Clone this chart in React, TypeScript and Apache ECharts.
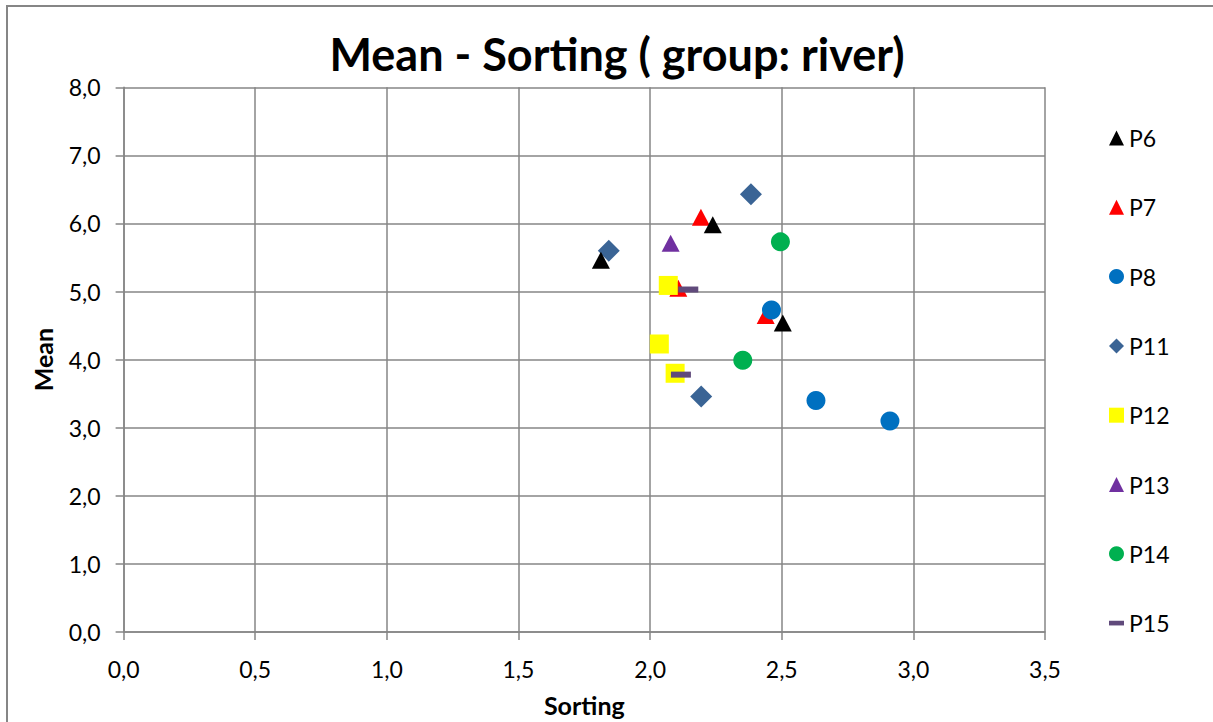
import React, { useEffect, useRef } from "react";
import * as echarts from "echarts";

const seriesNames = ["P6", "P7", "P8", "P11", "P12", "P13", "P14", "P15"];
const p6 = [[1.813, 5.46], [2.238, 5.98], [2.504, 4.54]];
const p7 = [[2.193, 6.09], [2.107, 5.05], [2.439, 4.65]];
const p8 = [[2.461, 4.73], [2.63, 3.4], [2.911, 3.1]];
const p11 = [[2.383, 6.43], [1.843, 5.6], [2.194, 3.46]];
const p12 = [[2.069, 5.09], [2.035, 4.23], [2.095, 3.8]];
const p13 = [[2.078, 5.71]];
const p14 = [[2.495, 5.73], [2.352, 3.99]];
const p15 = [[2.145, 5.03], [2.117, 3.78]];
const xTicks = { min: 0, max: 3.5, interval: 0.5 };
const yTicks = { min: 0, max: 8, interval: 1 };

const FONT = "Lato";

const fmt = (v: number) => v.toFixed(1).replace(".", ",");

export default function App() {
  const ref = useRef<HTMLDivElement>(null);
  useEffect(() => {
    if (!ref.current) return;
    const chart = echarts.init(ref.current, null, { renderer: "svg" });
    const dash = "path://M0,0 L18,0 L18,5 L0,5 Z";
    const styles: any[] = [
      { data: p6, symbol: "triangle", size: [18, 17], color: "#000000", z: 5 },
      { data: p7, symbol: "triangle", size: [18, 17], color: "#FF0000", z: 2 },
      { data: p8, symbol: "circle", size: 19, color: "#0070C0", z: 2 },
      { data: p11, symbol: "diamond", size: [22, 22], color: "#3A6495", z: 2 },
      { data: p12, symbol: "rect", size: [19, 19], color: "#FFFF00", z: 2 },
      { data: p13, symbol: "triangle", size: [18, 17], color: "#7030A0", z: 2 },
      { data: p14, symbol: "circle", size: 19, color: "#00B050", z: 2 },
      { data: p15, symbol: dash, size: [20, 6], color: "#604A7B", z: 3 },
    ];
    const legendIcons = ["triangle", "triangle", "circle", "diamond", "rect", "triangle", "circle", "path://M0,0 L16,0 L16,5 L0,5 Z"];
    chart.setOption({
      animation: false,
      backgroundColor: "#ffffff",
      textStyle: { fontFamily: FONT },
      title: {
        text: "Mean - Sorting ( group: river)",
        left: 612,
        top: 26,
        textAlign: "center",
        textStyle: { fontFamily: FONT, fontSize: 45, fontWeight: "bold", color: "#000" },
      },
      graphic: [
        {
          type: "rect",
          shape: { x: 7, y: 6, width: 1220, height: 730 },
          style: { fill: "none", stroke: "#868686", lineWidth: 2 },
          silent: true,
          z: -1,
        },
      ],
      legend: {
        orient: "vertical",
        left: 1104,
        top: 121,
        itemWidth: 15,
        itemHeight: 15,
        itemGap: 45.3,
        textStyle: { fontFamily: FONT, fontSize: 23, color: "#000", lineHeight: 24 },
        data: seriesNames.map((n, i) => ({ name: n, icon: legendIcons[i] })),
      },
      grid: { left: 123.6, right: 168, top: 87.3, bottom: 83.7, containLabel: false },
      xAxis: {
        type: "value",
        min: xTicks.min,
        max: xTicks.max,
        interval: xTicks.interval,
        name: "Sorting",
        nameLocation: "middle",
        nameGap: 60,
        nameTextStyle: { fontFamily: FONT, fontSize: 25, fontWeight: "bold", color: "#000" },
        axisLine: { show: true, onZero: false, lineStyle: { color: "#868686", width: 1.5 } },
        axisTick: { show: true, inside: false, length: 8, lineStyle: { color: "#868686", width: 1.5 } },
        axisLabel: { formatter: fmt, margin: 25, fontFamily: FONT, fontSize: 23, color: "#000" },
        splitLine: { show: true, lineStyle: { color: "#868686", width: 1.5 } },
      },
      yAxis: {
        type: "value",
        min: yTicks.min,
        max: yTicks.max,
        interval: yTicks.interval,
        name: "Mean",
        nameLocation: "middle",
        nameGap: 68,
        nameRotate: 90,
        nameTextStyle: { fontFamily: FONT, fontSize: 25, fontWeight: "bold", color: "#000" },
        axisLine: { show: true, onZero: false, lineStyle: { color: "#868686", width: 1.5 } },
        axisTick: { show: true, inside: false, length: 8, lineStyle: { color: "#868686", width: 1.5 } },
        axisLabel: { formatter: fmt, margin: 23, fontFamily: FONT, fontSize: 23, color: "#000" },
        splitLine: { show: true, lineStyle: { color: "#868686", width: 1.5 } },
      },
      series: seriesNames.map((n, i) => ({
        name: n,
        type: "scatter",
        data: styles[i].data,
        symbol: styles[i].symbol,
        symbolSize: styles[i].size,
        z: styles[i].z,
        itemStyle: { color: styles[i].color, opacity: 1 },
        emphasis: { disabled: true },
      })),
    });
    return () => chart.dispose();
  }, []);
  return (
    <div
      ref={ref}
      style={{ position: "absolute", left: 0, top: 0, width: 1213, height: 722 }}
    />
  );
}
